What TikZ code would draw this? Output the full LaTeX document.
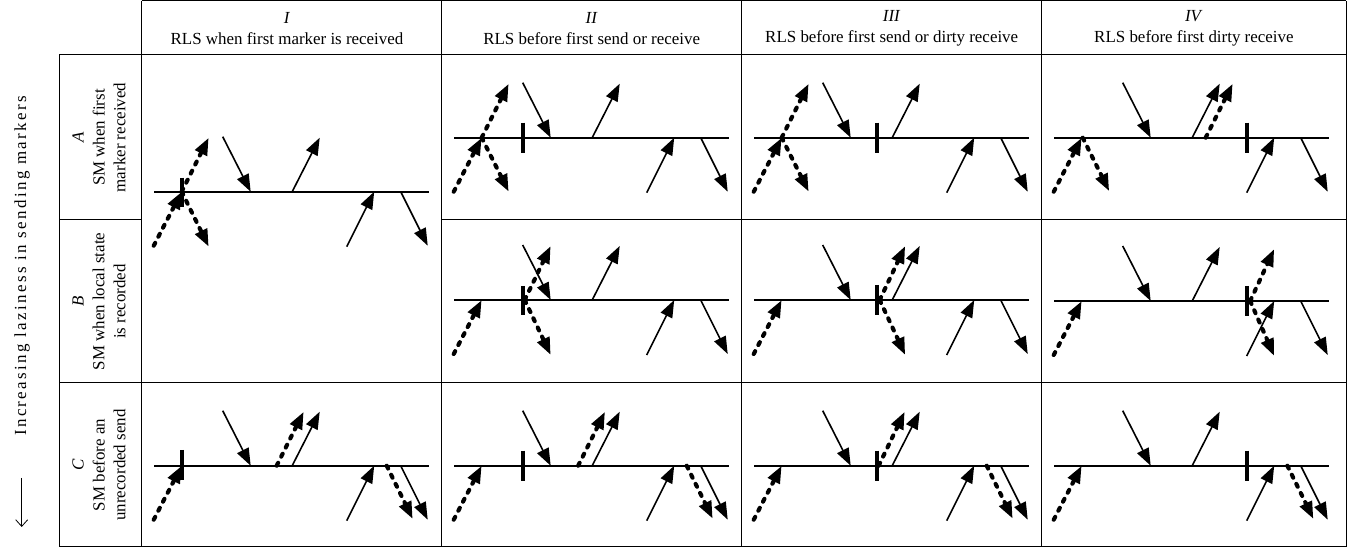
\documentclass[tikz,border=0pt]{standalone}
\usepackage{fontspec}
\setmainfont{Liberation Serif}
\newfontfamily\spacedfont[LetterSpace=14]{Liberation Serif}
\usetikzlibrary{arrows.meta}
\tikzset{
  gridline/.style={line width=0.75pt},
  tline/.style={line width=1.5pt},
  msg/.style={line width=1.2pt,-{Triangle[length=13pt,width=9.5pt]}},
  mkr/.style={line width=3.1pt,line cap=round,dash pattern=on 2.4pt off 5.2pt,-{Triangle[length=13pt,width=9.5pt]}},
  rec/.style={line width=3pt},
  hdr/.style={align=center,font=\fontsize{12.7pt}{15.7pt}\selectfont},
}
\newcommand{\cellbase}{%
  \draw[tline] (12.5,0) -- (287.5,0);
  \draw[mkr] (12,54) -- (40,0);
  \draw[msg] (81,-55) -- (109,0);
  \draw[msg] (150.5,0) -- (178,-54);
  \draw[msg] (205,55) -- (232.5,0);
  \draw[msg] (259,0) -- (286,54);
}
\begin{document}
\begin{tikzpicture}[x=0.75pt,y=-0.75pt]
\useasboundingbox (0,0) rectangle (1347,548);
% table
\draw[gridline] (141.7,1) -- (1346,1);
\draw[gridline] (59,55) -- (1346,55);
\draw[gridline] (59,220) -- (141.7,220);
\draw[gridline] (441.7,220) -- (1346,220);
\draw[gridline] (59,383) -- (1346,383);
\draw[gridline] (59,547) -- (1346,547);
\draw[gridline] (59,55) -- (59,547);
\foreach \xx in {141.7,441.7,741.7,1041.7,1346} \draw[gridline] (\xx,1) -- (\xx,547);
% headers
\node[hdr] (hI) at (287,28.5) {\textit{I}\\RLS when first marker is received};
\node[hdr] (hII) at (591.7,28.5) {\textit{II}\\RLS before first send or receive};
\node[hdr] (hIII) at (891.7,28.5) {\textit{III}\\RLS before first send or dirty receive};
\node[hdr] (hIV) at (1193.9,28.5) {\textit{IV}\\RLS before first dirty receive};
\node[hdr,rotate=90] (rA) at (99,137.5) {\textit{A}\\SM when first\\marker received};
\node[hdr,rotate=90] (rB) at (99,301.5) {\textit{B}\\SM when local state\\is recorded};
\node[hdr,rotate=90] (rC) at (99,465) {\textit{C}\\SM before an\\unrecorded send};
\node[hdr,rotate=90,font=\fontsize{12.7pt}{15.7pt}\spacedfont] (lazy) at (22,266) {Increasing laziness in sending markers};
\coordinate (lzA) at (21.7,478);
\coordinate (lzB) at (21.7,527);
\draw[line width=0.6pt,-{Straight Barb[length=5pt,width=9pt]}] (lzA) -- (lzB);
% I-A/B
\begin{scope}[shift={(141.7,191.7)}]
  \cellbase
  \draw[mkr] (40,0) -- (67,-54);
  \draw[mkr] (40,0) -- (67,55);
  \draw[rec] (40,-14) -- (40,15);
\end{scope}
% II-A
\begin{scope}[shift={(441.7,137.7)}]
  \cellbase
  \draw[mkr] (40,0) -- (67,-54);
  \draw[mkr] (40,0) -- (67,54);
  \draw[rec] (81,-15) -- (81,15);
\end{scope}
% III-A
\begin{scope}[shift={(741.7,137.7)}]
  \cellbase
  \draw[mkr] (40,0) -- (67,-54);
  \draw[mkr] (40,0) -- (67,54);
  \draw[rec] (135.5,-15) -- (135.5,15);
\end{scope}
% IV-A
\begin{scope}[shift={(1041.7,137.7)}]
  \cellbase
  \draw[mkr] (41,0) -- (67.5,53.5);
  \draw[mkr] (164,0) -- (191,-54);
  \draw[rec] (205.7,-15) -- (205.7,15);
\end{scope}
% II-B
\begin{scope}[shift={(441.7,300)}]
  \cellbase
  \draw[mkr] (83,0) -- (109,-54);
  \draw[mkr] (83,0) -- (109,55);
  \draw[rec] (81,-14) -- (81,15);
\end{scope}
% III-B
\begin{scope}[shift={(741.7,300)}]
  \cellbase
  \draw[mkr] (138,0) -- (163.5,-54);
  \draw[mkr] (138,0) -- (163.5,55);
  \draw[rec] (135,-15) -- (135,15);
\end{scope}
% IV-B
\begin{scope}[shift={(1041.7,301)}]
  \cellbase
  \draw[mkr] (208.5,0) -- (232.5,-52);
  \draw[mkr] (208.5,0) -- (232.5,55);
  \draw[rec] (205.7,-15) -- (205.7,15);
\end{scope}
% I-C
\begin{scope}[shift={(141.7,465.7)}]
  \cellbase
  \draw[mkr] (135,0) -- (162,-54);
  \draw[mkr] (245,0) -- (271,53.3);
  \draw[rec] (40,-15.7) -- (40,14.3);
\end{scope}
% II-C
\begin{scope}[shift={(441.7,465.7)}]
  \cellbase
  \draw[mkr] (136.5,0) -- (163.3,-54);
  \draw[mkr] (245,0) -- (271,53);
  \draw[rec] (81,-15) -- (81,15);
\end{scope}
% III-C
\begin{scope}[shift={(741.7,465.7)}]
  \cellbase
  \draw[mkr] (137,0) -- (163,-54);
  \draw[mkr] (245,0) -- (271,53);
  \draw[rec] (135.5,-15) -- (135.5,15);
\end{scope}
% IV-C
\begin{scope}[shift={(1041.7,465.7)}]
  \cellbase
  \draw[mkr] (245.7,0) -- (271.7,53.3);
  \draw[rec] (205.7,-15) -- (205.7,15);
\end{scope}
\end{tikzpicture}
\end{document}
